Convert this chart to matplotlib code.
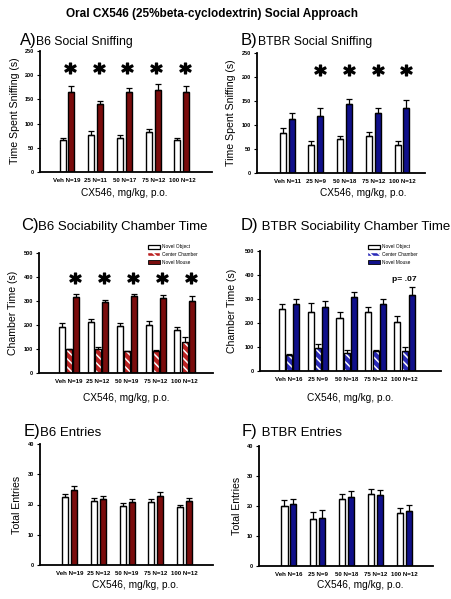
import numpy as np
import matplotlib
matplotlib.use('Agg')
import matplotlib.pyplot as plt
from matplotlib.patches import Patch

plt.rcParams['font.family'] = ['Liberation Sans', 'DejaVu Sans']
plt.rcParams['hatch.linewidth'] = 1.1

#---DATA---------------------------------------------------------------------

#A) B6 social sniffing (s)
a_labels = ['Veh N=19', '25 N=11', '50 N=17', '75 N=12', '100 N=12']
a_object = [67, 76, 71, 82, 67]
a_object_err = [4, 9, 5, 7.5, 4]
a_mouse = [165, 140, 165, 169, 165]
a_mouse_err = [13, 6, 8, 12, 13]
a_stars = [0, 1, 2, 3, 4]

#B) BTBR social sniffing (s)
b_labels = ['Veh N=11', '25 N=9', '50 N=18', '75 N=12', '100 N=12']
b_object = [84, 59, 71, 77, 58]
b_object_err = [9, 8, 7, 9, 8]
b_mouse = [112, 118, 144, 125, 136]
b_mouse_err = [13, 18, 10, 11, 17]
b_stars = [1, 2, 3, 4]

#C) B6 sociability chamber time (s)
c_labels = ['Veh N=19', '25 N=12', '50 N=19', '75 N=12', '100 N=12']
c_object = [193, 214, 197, 200, 178]
c_object_err = [14, 10, 10, 15, 13]
c_center = [99, 99, 90, 92, 128]
c_center_err = [3, 9, 3, 5, 21]
c_mouse = [315, 296, 320, 312, 301]
c_mouse_err = [16, 8, 10, 13, 21]
c_stars = [0, 1, 2, 3, 4]

#D) BTBR sociability chamber time (s)
d_labels = ['Veh N=16', '25 N=9', '50 N=18', '75 N=12', '100 N=12']
d_object = [260, 246, 222, 246, 204]
d_object_err = [19, 38, 22, 20, 24]
d_center = [68, 94, 76, 84, 84]
d_center_err = [2, 19, 10, 2, 18]
d_mouse = [280, 265, 307, 279, 318]
d_mouse_err = [20, 26, 22, 19, 33]
d_note = 'p= .07'
d_note_group = 4
d_note_y = 382

#E) B6 entries
e_labels = ['Veh N=19', '25 N=12', '50 N=19', '75 N=12', '100 N=12']
e_object = [22.5, 21, 19.6, 20.9, 19.1]
e_object_err = [1.0, 1.1, 0.9, 1.0, 0.7]
e_mouse = [24.8, 21.9, 20.8, 22.7, 21]
e_mouse_err = [1.2, 0.8, 1.1, 1.5, 1.1]

#F) BTBR entries
f_labels = ['Veh N=16', '25 N=9', '50 N=18', '75 N=12', '100 N=12']
f_object = [20, 15.6, 22.4, 24.1, 17.8]
f_object_err = [1.9, 2.4, 1.7, 1.6, 1.6]
f_mouse = [20.6, 16, 23, 23.6, 18.4]
f_mouse_err = [1.6, 2.6, 2, 1.6, 2]

legend_labels = ['Novel Object', 'Center Chamber', 'Novel Mouse']
star_y_sniff = 215
star_y_chamber = 395

#---STYLE--------------------------------------------------------------------

W, H = 451, 599
red_dark = '#7a0c0c'
red_hatch = '#bb2222'
blue_dark = '#10108a'
blue_hatch = '#2a2ab8'

fig = plt.figure(figsize=(W/100, H/100), dpi=100)

def px(x, y):
  return x/W, 1-y/H

def add_ax(left, top, right, bottom, xlim, ylim, yticks, labels):
  ax = fig.add_axes([left/W, 1-bottom/H, (right-left)/W, (bottom-top)/H])
  ax.set_xlim(xlim)
  ax.set_ylim(ylim)
  ax.set_yticks(yticks)
  ax.set_xticks(range(len(labels)))
  ax.set_xticklabels(labels, fontsize=4.4, fontweight='bold')
  for t in ax.get_yticklabels():
    t.set_fontsize(4.0)
    t.set_fontweight('bold')
  ax.tick_params(axis='x', length=0, pad=4)
  ax.tick_params(axis='y', length=2.2, width=0.8, pad=2, direction='out')
  for s in ['top', 'right']:
    ax.spines[s].set_visible(False)
  for s in ['left', 'bottom']:
    ax.spines[s].set_linewidth(1.3)
  ax.patch.set_alpha(0)
  return ax

def bars(ax, x, vals, errs, color, hatch=None):
  if hatch:
    ax.bar(x, vals, width=0.21, color=color, edgecolor='white', hatch=hatch, linewidth=0, zorder=2)
    ax.bar(x, vals, width=0.21, fill=False, edgecolor='black', linewidth=0.9, zorder=3)
  else:
    ax.bar(x, vals, width=0.21, color=color, edgecolor='black', linewidth=1.0, zorder=2)
  ax.errorbar(x, vals, yerr=[np.zeros(len(vals)), errs], fmt='none', ecolor='black',
              elinewidth=0.9, capsize=2.2, capthick=0.9, zorder=4)

def stars(ax, x, y):
  ax.plot(x, [y]*len(x), linestyle='none', marker=r'$\mathbf{*}$', ms=8, color='black',
          clip_on=False, zorder=5)

def title(x, y, letter, text, size):
  fx, fy = px(x, y)
  fig.text(fx, fy, letter, fontsize=12, ha='left', va='baseline')
  fx2, fy2 = px(x + 16.5, y)
  fig.text(fx2, fy2, text, fontsize=size, ha='left', va='baseline')

def ylab(x, y, text):
  fx, fy = px(x, y)
  fig.text(fx, fy, text, fontsize=7.6, rotation=90, ha='center', va='center')

def xlab(x, y, text):
  fx, fy = px(x, y)
  fig.text(fx, fy, text, fontsize=7.3, ha='center', va='center')

def legend(ax, x, y, colors):
  handles = [Patch(facecolor='white', edgecolor='black', linewidth=0.9),
             Patch(facecolor=colors[0], edgecolor='white', hatch='\\'*4, linewidth=0.3),
             Patch(facecolor=colors[1], edgecolor='black', linewidth=0.6)]
  fx, fy = px(x, y)
  ax.legend(handles, legend_labels, loc='upper left', bbox_to_anchor=(fx, fy),
            bbox_transform=fig.transFigure, frameon=False, fontsize=3.4,
            handlelength=2.5, handleheight=0.85, labelspacing=0.55,
            handletextpad=0.45, borderpad=0, borderaxespad=0)

groups = np.arange(5)
off2 = 0.155
off3 = 0.25

#---MAIN TITLE---------------------------------------------------------------
fx, fy = px(212, 14)
fig.text(fx, fy, 'Oral CX546 (25%beta-cyclodextrin) Social Approach', fontsize=8.5,
         fontweight='bold', ha='center', va='center')

#---A-----------------------------------------------------------------------
ax = add_ax(40, 51, 212, 172, (-0.94, 5.05), (0, 250), [0, 50, 100, 150, 200, 250], a_labels)
bars(ax, groups-off2, a_object, a_object_err, 'white')
bars(ax, groups+off2, a_mouse, a_mouse_err, red_dark)
stars(ax, np.array(a_stars)+off2-0.05, star_y_sniff)
title(20, 45, 'A)', 'B6 Social Sniffing', 8.8)
ylab(15, 111, 'Time Spent Sniffing (s)')
xlab(124, 193, 'CX546, mg/kg, p.o.')

#---B-----------------------------------------------------------------------
ax = add_ax(257, 53, 425, 173, (-1.05, 4.8), (0, 250), [0, 50, 100, 150, 200, 250], b_labels)
bars(ax, groups-off2, b_object, b_object_err, 'white')
bars(ax, groups+off2, b_mouse, b_mouse_err, blue_dark)
stars(ax, np.array(b_stars)+off2, star_y_sniff)
title(241, 45, 'B)', 'BTBR Social Sniffing', 8.8)
ylab(231, 113, 'Time Spent Sniffing (s)')
xlab(363, 193, 'CX546, mg/kg, p.o.')

#---C-----------------------------------------------------------------------
ax = add_ax(39, 253, 213, 373, (-1.04, 4.98), (0, 500), [0, 100, 200, 300, 400, 500], c_labels)
bars(ax, groups-off3, c_object, c_object_err, 'white')
bars(ax, groups, c_center, c_center_err, red_hatch, hatch='\\'*4)
bars(ax, groups+off3, c_mouse, c_mouse_err, red_dark)
stars(ax, np.array(c_stars)+off3-0.03, star_y_chamber)
legend(ax, 148, 244.5, [red_hatch, red_dark])
title(21, 230, 'C)', 'B6 Sociability Chamber Time', 9.5)
ylab(13, 313, 'Chamber Time (s)')
xlab(126, 398, 'CX546, mg/kg, p.o.')

#---D-----------------------------------------------------------------------
ax = add_ax(260, 251, 441, 371, (-1.0, 5.26), (0, 500), [0, 100, 200, 300, 400, 500], d_labels)
bars(ax, groups-off3, d_object, d_object_err, 'white')
bars(ax, groups, d_center, d_center_err, blue_hatch, hatch='\\'*4)
bars(ax, groups+off3, d_mouse, d_mouse_err, blue_dark)
ax.text(d_note_group, d_note_y, d_note, fontsize=6.1, fontweight='bold', ha='center', va='center')
legend(ax, 368, 244.5, [blue_hatch, blue_dark])
title(241, 230, 'D)', ' BTBR Sociability Chamber Time', 9.5)
ylab(232, 311, 'Chamber Time (s)')
xlab(350, 398, 'CX546, mg/kg, p.o.')

#---E-----------------------------------------------------------------------
ax = add_ax(40, 444, 213, 565, (-1.03, 4.99), (0, 40), [0, 10, 20, 30, 40], e_labels)
bars(ax, groups-off2, e_object, e_object_err, 'white')
bars(ax, groups+off2, e_mouse, e_mouse_err, red_dark)
title(24, 436, 'E)', 'B6 Entries', 9.5)
ylab(17, 505, 'Total Entries')
xlab(135, 585, 'CX546, mg/kg, p.o.')

#---F-----------------------------------------------------------------------
ax = add_ax(259, 446, 433, 566, (-1.04, 5.0), (0, 40), [0, 10, 20, 30, 40], f_labels)
bars(ax, groups-off2, f_object, f_object_err, 'white')
bars(ax, groups+off2, f_mouse, f_mouse_err, blue_dark)
title(242, 436, 'F)', ' BTBR Entries', 9.5)
ylab(237, 506, 'Total Entries')
xlab(360, 585, 'CX546, mg/kg, p.o.')

fig.savefig('out.png', dpi=100)
